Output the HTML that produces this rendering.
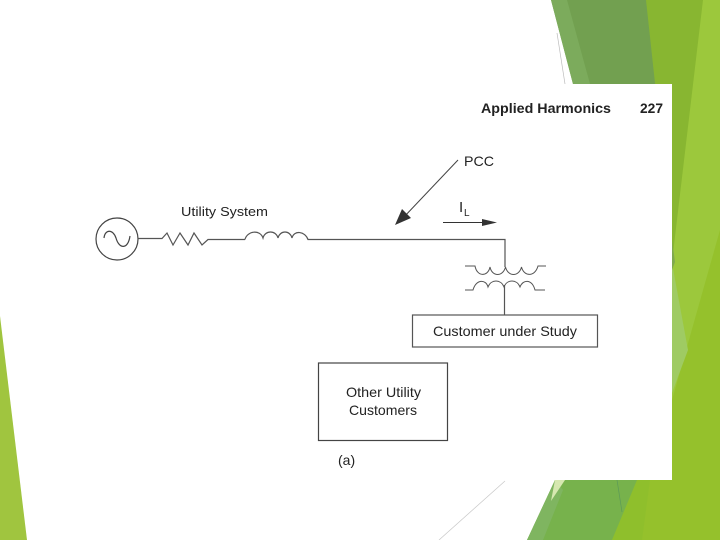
<!DOCTYPE html>
<html>
<head>
<meta charset="utf-8">
<style>
html,body{margin:0;padding:0;background:#fff;width:720px;height:540px;overflow:hidden}
svg{display:block}
text{font-family:"Liberation Sans",sans-serif;fill:#222}
</style>
</head>
<body>
<svg width="720" height="540" viewBox="0 0 720 540" xmlns="http://www.w3.org/2000/svg">
<rect width="720" height="540" fill="#fff"/>
<!-- left sliver -->
<polygon points="0,316 27,540 0,540" fill="#a0c53f"/>
<!-- top right -->
<polygon points="551,0 720,0 720,300 672,300 573,84" fill="#72a050"/>
<polygon points="551,0 567,0 590,84 573,84" fill="#7cab5c"/>
<polygon points="646,0 720,0 720,540 672,540 672,240" fill="#88b631"/>
<polygon points="703,0 720,0 720,540 672,540 672,262" fill="#9cc83c"/>
<polygon points="720,230 720,540 672,540 672,400" fill="#95c12c"/>
<polygon points="672,263 688,350 672,393" fill="#9fcb63"/>
<polygon points="672,240 675,262 672,270" fill="#7fa94e"/>
<!-- bottom right -->
<polygon points="555,480 720,480 720,540 527,540" fill="#77b24c"/>
<polygon points="555,480 527,540 543,540 563,490" fill="#7fb560"/>
<polygon points="555,480 565,480 551,501" fill="#d6e8b0"/>
<polygon points="637,480 720,480 720,540 612,540" fill="#8fbf2c"/>
<polygon points="650,480 720,480 720,540 642,540" fill="#95c12c"/>
<line x1="617" y1="480" x2="622" y2="512" stroke="#5c9a58" stroke-width="0.7"/>
<line x1="505" y1="481" x2="439" y2="540" stroke="#c8c8c8" stroke-width="0.7"/>
<line x1="557" y1="33" x2="565" y2="84" stroke="#bbb" stroke-width="0.7"/>
<!-- page -->
<rect x="48" y="84" width="624" height="396" fill="#fff"/>
<!-- header -->
<text x="481" y="113" font-size="14" font-weight="bold" textLength="130" lengthAdjust="spacingAndGlyphs">Applied Harmonics</text>
<text x="640" y="113" font-size="14" font-weight="bold" textLength="23" lengthAdjust="spacingAndGlyphs">227</text>
<!-- source -->
<circle cx="117" cy="239" r="21" fill="none" stroke="#444" stroke-width="1.2"/>
<path d="M104,238 C105,229 113,229 116,238 C119,249 128,250 130,236" fill="none" stroke="#444" stroke-width="1.2"/>
<!-- wire, resistor, inductor -->
<path d="M138,238.500 H162 L167,233 L173,245 L180,233 L188,245 L194,233 L202,245 L208,239.500 H245" fill="none" stroke="#555" stroke-width="1.2"/>
<path d="M245,239.500 C247,231 260,229 263,238 C265,230 276,230 278,238 C280,230 290,230 292,238 C294,230 305,231 308,239.500 H505 V267" fill="none" stroke="#555" stroke-width="1.2"/>
<text x="181" y="216" font-size="13" textLength="87" lengthAdjust="spacingAndGlyphs">Utility System</text>
<!-- PCC arrow -->
<line x1="458" y1="160" x2="403" y2="218" stroke="#444" stroke-width="1"/>
<polygon points="395,225 402,209 411,218" fill="#333"/>
<text x="464" y="166" font-size="14" textLength="30" lengthAdjust="spacingAndGlyphs">PCC</text>
<!-- IL -->
<text x="459" y="212" font-size="15">I</text>
<text x="464" y="216" font-size="10">L</text>
<line x1="443" y1="222.500" x2="485" y2="222.500" stroke="#333" stroke-width="1"/>
<polygon points="482,219 497,222.500 482,226" fill="#333"/>
<!-- transformer -->
<path d="M465,266 H475 C477,277 488,277 490,267 C492,277 503,277 505.500,267 C508,277 519,277 521.500,267 C524,277 535,277 538,266 H546" fill="none" stroke="#555" stroke-width="1"/>
<path d="M465,290 H473 C476,279 486,279 488,287 C491,279 501,279 504,287 C507,279 517,279 520,287 C523,279 532,279 535,290 H545" fill="none" stroke="#555" stroke-width="1"/>
<line x1="504.500" y1="285" x2="504.500" y2="315" stroke="#555" stroke-width="1.2"/>
<!-- customer box -->
<rect x="412.500" y="315" width="185" height="32" fill="#fff" stroke="#555" stroke-width="1.2"/>
<text x="433" y="336" font-size="14" textLength="144" lengthAdjust="spacingAndGlyphs">Customer under Study</text>
<!-- other box -->
<rect x="318.500" y="363" width="129" height="77.500" fill="#fff" stroke="#444" stroke-width="1.2"/>
<text x="346" y="397" font-size="14" textLength="75" lengthAdjust="spacingAndGlyphs">Other Utility</text>
<text x="349" y="415" font-size="14" textLength="68" lengthAdjust="spacingAndGlyphs">Customers</text>
<text x="338" y="465" font-size="14">(a)</text>
</svg>
</body>
</html>
